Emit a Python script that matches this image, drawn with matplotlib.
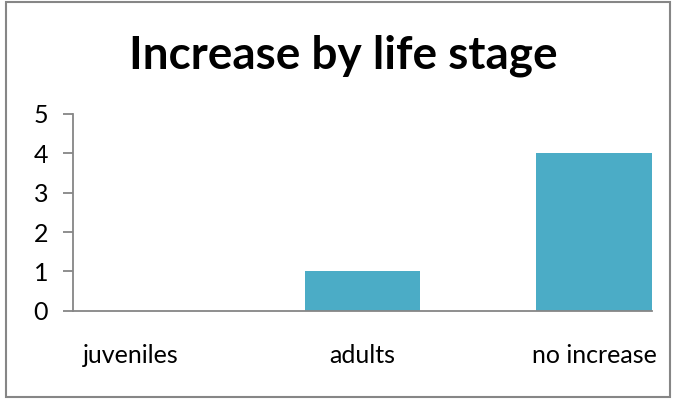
import matplotlib
matplotlib.use("Agg")
import matplotlib.pyplot as plt
from matplotlib.patches import Rectangle

# life stage counts
stages = ["juveniles", "adults", "no increase"]
counts = [0, 1, 4]
y_ticks = [0, 1, 2, 3, 4, 5]

bar_color = "#4BACC6"
axis_grey = "#868686"

plt.rcParams["font.family"] = ["Lato", "DejaVu Sans"]

fig = plt.figure(figsize=(6.76, 3.99), dpi=100)
ax = fig.add_axes([0.108, 0.2213, 0.8565, 0.493])

x = list(range(len(stages)))
ax.bar(x, counts, width=0.5, color=bar_color)

ax.set_xlim(-0.25, 2.25)
ax.set_ylim(0, 5)
ax.set_yticks(y_ticks)
ax.set_xticks(x)
ax.set_xticklabels(stages)

for side in ("top", "right"):
    ax.spines[side].set_visible(False)
for side in ("left", "bottom"):
    ax.spines[side].set_color(axis_grey)
    ax.spines[side].set_linewidth(1.3)

ax.tick_params(axis="y", length=7, width=1.3, color=axis_grey, labelsize=18, pad=11)
ax.tick_params(axis="x", length=0, labelsize=18, pad=24)

fig.text(0.5075, 0.86, "Increase by life stage", ha="center", va="center",
         fontsize=33, fontweight="bold")

# outer chart frame
fig.patches.append(Rectangle((5.5 / 676, 2 / 399), 664.5 / 676, 395 / 399,
                             transform=fig.transFigure, fill=False,
                             edgecolor=axis_grey, linewidth=1.5))

fig.savefig("out.png", dpi=100)
